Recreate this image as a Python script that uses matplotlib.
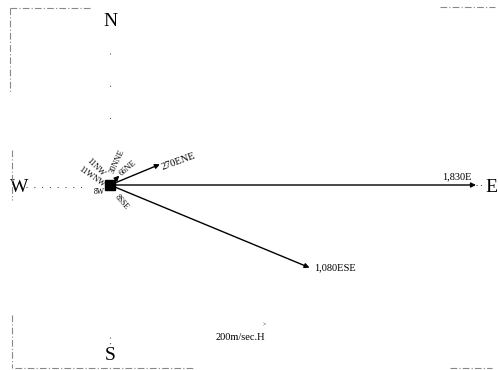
import matplotlib.pyplot as plt
import numpy as np

plt.rcParams['font.family'] = ['Liberation Serif', 'DejaVu Serif']

# wind vectors: direction (16-point compass) and speed (m/sec)
directions = ['E', 'ESE', 'ENE', 'NE', 'NNE', 'NW', 'WNW', 'W', 'SSE']
speeds = [1830, 1080, 270, 66, 30, 11, 11, 8, 8]
labels = ['1,830E', '1,080ESE', '270ENE', '66NE', '30NNE', '11NW', '11WNW', '8W', '8SSE']

compass = ['E', 'ENE', 'NE', 'NNE', 'N', 'NNW', 'NW', 'WNW',
           'W', 'WSW', 'SW', 'SSW', 'S', 'SSE', 'SE', 'ESE']
angle_of = {d: 22.5 * i for i, d in enumerate(compass)}

fig = plt.figure(figsize=(4.98, 3.70), dpi=100)
ax = fig.add_axes([0, 0, 1, 1])
ax.set_xlim(-550, 1940)
ax.set_ylim(-925, 925)
ax.set_aspect('equal')
ax.axis('off')

# dotted cross lines
ax.plot([-420, -130], [-10, -10], ls=(0, (1, 6)), color='#555555', lw=0.8)
ax.plot([0, 0], [660, 320], ls=(0, (1, 28)), color='#555555', lw=0.8)
ax.plot([0, 0], [-760, -800], ls=(0, (1, 4)), color='#555555', lw=0.8)
ax.plot([1830, 1870], [0, 0], ls=(0, (1, 3)), color='#555555', lw=0.8)

# compass letters
ax.text(0, 820, 'N', ha='center', va='center', fontsize=14)
ax.text(0, -855, 'S', ha='center', va='center', fontsize=14)
ax.text(-455, -10, 'W', ha='center', va='center', fontsize=14)
ax.text(1905, -10, 'E', ha='center', va='center', fontsize=14)

# vectors
for d, s in zip(directions, speeds):
    a = np.deg2rad(angle_of[d])
    ax.annotate('', xy=(s * np.cos(a), s * np.sin(a)), xytext=(0, 0),
                arrowprops=dict(arrowstyle='-|>', color='black', lw=1.0,
                                mutation_scale=7, shrinkA=0, shrinkB=0))
ax.plot(0, 0, marker='s', ms=7, color='black')

# vector labels
ax.text(1830 - 20, 20, labels[0], ha='right', va='bottom', fontsize=7.5)
ax.text(1020, -415, labels[1], ha='left', va='center', fontsize=7.5)
ax.text(250, 115, labels[2], ha='left', va='center', fontsize=7.5, rotation=20)
ax.text(90, 85, labels[3], ha='center', va='center', fontsize=6, rotation=40)
ax.text(35, 120, labels[4], ha='center', va='center', fontsize=6, rotation=65)
ax.text(-75, 90, labels[5], ha='center', va='center', fontsize=6, rotation=-45)
ax.text(-90, 40, labels[6], ha='center', va='center', fontsize=6, rotation=-35)
ax.text(-55, -35, labels[7], ha='center', va='center', fontsize=5.5)
ax.text(60, -85, labels[8], ha='center', va='center', fontsize=5.5, rotation=-50)

# scale
ax.text(650, -760, '200m/sec.H', ha='center', va='center', fontsize=7.5)
ax.text(770, -700, '>', ha='center', va='center', fontsize=4)

# broken scan frame
frame = [
    ([10, 90], [8, 8]), ([440, 495], [7, 7]),
    ([10, 10], [8, 92]), ([12, 12], [150, 200]),
    ([12, 12], [315, 368]), ([15, 195], [368, 368]), ([450, 492], [368, 368]),
]
for xs, ys in frame:
    fig.add_artist(plt.Line2D(np.array(xs) / 498, 1 - np.array(ys) / 370,
                              color='#888888', lw=0.8, ls=(0, (6, 2, 1, 2))))

fig.savefig('out.png', dpi=100)
